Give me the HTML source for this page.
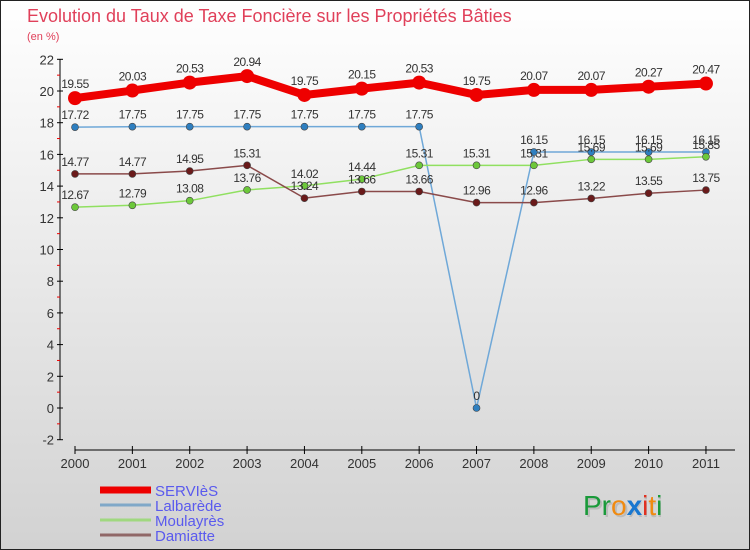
<!DOCTYPE html>
<html><head><meta charset="utf-8"><style>
body{margin:0;width:750px;height:550px;overflow:hidden;font-family:"Liberation Sans",sans-serif}
svg{display:block}
text{font-family:"Liberation Sans",sans-serif}
</style></head><body>
<svg id="c" width="750" height="550" xmlns="http://www.w3.org/2000/svg">
<defs><linearGradient id="bg" x1="0" y1="0" x2="0" y2="1"><stop offset="0" stop-color="#ffffff"/><stop offset="1" stop-color="#d2d2d2"/></linearGradient></defs>
<rect x="0.5" y="0.5" width="749" height="549" fill="url(#bg)" stroke="#222"/>
<text x="27" y="22" font-size="18" fill="#e0405a">Evolution du Taux de Taxe Foncière sur les Propriétés Bâties</text>
<text x="27" y="40" font-size="11" fill="#e0405a">(en %)</text>
<g id="axes"></g><g id="series"></g><g id="legend"></g>
<text x="585" y="517" font-size="28" fill="#bbb">Proxiti</text>
<text x="583" y="515" font-size="28"><tspan fill="#1a9a3a">Pr</tspan><tspan fill="#f08a10">o</tspan><tspan fill="#1877d0" font-weight="bold">x</tspan><tspan fill="#e03020">i</tspan><tspan fill="#f08a10">t</tspan><tspan fill="#1a9a3a">i</tspan></text>
</svg>
<script>
const years=["2000","2001","2002","2003","2004","2005","2006","2007","2008","2009","2010","2011"];
const yTicks=[-2,0,2,4,6,8,10,12,14,16,18,20,22];
const servies=[19.55,20.03,20.53,20.94,19.75,20.15,20.53,19.75,20.07,20.07,20.27,20.47];
const lalbarede=[17.72,17.75,17.75,17.75,17.75,17.75,17.75,0,16.15,16.15,16.15,16.15];
const moulayres=[12.67,12.79,13.08,13.76,14.02,14.44,15.31,15.31,15.31,15.69,15.69,15.85];
const damiatte=[14.77,14.77,14.95,15.31,13.24,13.66,13.66,12.96,12.96,13.22,13.55,13.75];
const NS="http://www.w3.org/2000/svg";
const X=i=>75+i*57.36;
const Y=v=>408-v*15.85;
function mk(p,t,a){const e=document.createElementNS(NS,t);for(const k in a)e.setAttribute(k,a[k]);p.appendChild(e);return e;}
const ax=document.getElementById('axes');
let l=mk(ax,'line',{x1:60,y1:Y(22),x2:60,y2:Y(-2),stroke:'#000'});


for(let v=-1;v<22;v+=2){const m=mk(ax,'line',{x1:57,x2:60,y1:Y(v),y2:Y(v),stroke:'#e00'});

}
yTicks.forEach(v=>{const t=mk(ax,'line',{x1:57,x2:63,y1:Y(v),y2:Y(v),stroke:'#000'});


const tx=mk(ax,'text',{x:54,y:Y(v)+5,'font-size':13,'text-anchor':'end',fill:'#333'});tx.textContent=v;

});
l=mk(ax,'line',{x1:75,y1:450,x2:735,y2:450,stroke:'#000'});


years.forEach((y,i)=>{const t=mk(ax,'line',{x1:X(i),x2:X(i),y1:446,y2:454,stroke:'#000'});


const tx=mk(ax,'text',{x:X(i),y:468,'font-size':13,'text-anchor':'middle',fill:'#333'});tx.textContent=y;

});
const sg=document.getElementById('series');
const defs=[[lalbarede,'#6fa8d8','#2e7fc0',1.5,3.5,'lalbarede'],[moulayres,'#90e060','#6cc83a',1.5,3.5,'moulayres'],[damiatte,'#8a4a4a','#6a1a1a',1.5,3.5,'damiatte'],[servies,'#ee0000','#ee0000',8,7,'servies']];
defs.forEach(([d,lc,pc,w,r,n])=>{
const p=mk(sg,'polyline',{points:d.map((v,i)=>X(i)+','+Y(v)).join(' '),fill:'none',stroke:lc,'stroke-width':w,'stroke-linejoin':'round'});


d.forEach((v,i)=>{const c=mk(sg,'circle',{cx:X(i),cy:Y(v),r:r,fill:pc,stroke:n==='servies'?'none':'#444','stroke-width':0.6});


const t=mk(sg,'text',{x:X(i),y:Y(v)-(n==='servies'?10:8),'font-size':12,'text-anchor':'middle',fill:'#333','letter-spacing':'-0.5'});
t.textContent=String(v);

});});
const lg=document.getElementById('legend');
[['SERVIèS','#ee0000',7],['Lalbarède','#80a8c8',3],['Moulayrès','#a0d880',3],['Damiatte','#906868',3]].forEach(([n,c,w],i)=>{
const y=490+i*15;
const ln=mk(lg,'line',{x1:100,x2:151,y1:y,y2:y,stroke:c,'stroke-width':w});


const t=mk(lg,'text',{x:155,y:y+6,'font-size':15,fill:'#5a5aee'});t.textContent=n;

});
</script>
</body></html>
